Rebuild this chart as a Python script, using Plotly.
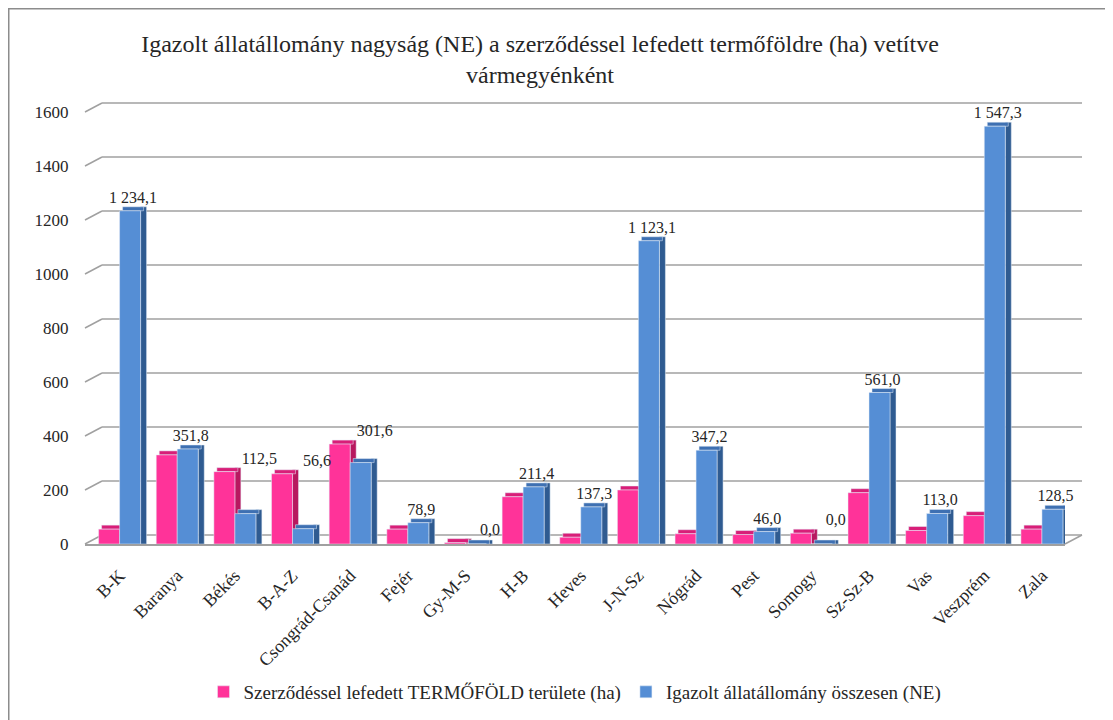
import plotly.graph_objects as go

# ---- data ----
categories = ["B-K", "Baranya", "Békés", "B-A-Z", "Csongrád-Csanád", "Fejér", "Gy-M-S",
              "H-B", "Heves", "J-N-Sz", "Nógrád", "Pest", "Somogy", "Sz-Sz-B", "Vas",
              "Veszprém", "Zala"]
termofold_ha = [55, 330, 268, 260, 370, 55, 5, 175, 25, 200, 38, 35, 40, 190, 50, 105, 55]
allatallomany_ne = [1234.1, 351.8, 112.5, 56.6, 301.6, 78.9, 0.0, 211.4, 137.3, 1123.1,
                    347.2, 46.0, 0.0, 561.0, 113.0, 1547.3, 128.5]
y_ticks = [0, 200, 400, 600, 800, 1000, 1200, 1400, 1600]

series1_name = "Szerződéssel lefedett TERMŐFÖLD területe (ha)"
series2_name = "Igazolt állatállomány összesen (NE)"
title_text = ("Igazolt állatállomány nagyság (NE) a szerződéssel lefedett termőföldre (ha) vetítve"
              "<br>vármegyénként")

# ---- styling ----
FONT = "Liberation Serif, Times New Roman, serif"
TXT = "#262626"
PINK, PINK_SIDE, PINK_TOP = "#FF3399", "#B8185F", "#D81E78"
BLUE, BLUE_SIDE, BLUE_TOP = "#558ED5", "#2F5B91", "#3E70B2"
GRID = "#A0A0A0"

OFF = 8                       # page body margin
W, H = 1113 - OFF, 720 - OFF
L_PX, R_PX = 85 - OFF, 1082 - OFF
T_PX, B_PX = 103 - OFF, 544 - OFF
PW, PH = R_PX - L_PX, B_PX - T_PX
DX, DY = 17, 9
XRANGE = [-0.6, 16.4]
unit_px = (PW - DX) / (XRANGE[1] - XRANGE[0])
YMAX = 1600
ypx = (PH - DY) / YMAX

bw = 21 / unit_px
sw = 6 / unit_px
sh = 3 / unit_px
depth = 4 / ypx

xs = list(range(len(categories)))


def fmt(v):
    return f"{v:,.1f}".replace(",", " ").replace(".", ",")


fig = go.Figure()

fig.add_trace(go.Bar(x=xs, y=[v + depth for v in termofold_ha], offset=0, width=sw,
                     marker=dict(color=PINK_SIDE), showlegend=False, hoverinfo="skip"))
fig.add_trace(go.Bar(x=xs, y=[depth] * len(xs), base=termofold_ha, offset=-bw + sh, width=bw,
                     marker=dict(color=PINK_TOP), showlegend=False, hoverinfo="skip"))
fig.add_trace(go.Bar(x=xs, y=termofold_ha, offset=-bw, width=bw, name=series1_name,
                     marker=dict(color=PINK)))

fig.add_trace(go.Bar(x=xs, y=[v + depth for v in allatallomany_ne], offset=bw, width=sw,
                     marker=dict(color=BLUE_SIDE), showlegend=False, hoverinfo="skip"))
fig.add_trace(go.Bar(x=xs, y=[depth] * len(xs), base=allatallomany_ne, offset=sh, width=bw,
                     marker=dict(color=BLUE_TOP), showlegend=False, hoverinfo="skip"))
fig.add_trace(go.Bar(x=xs, y=allatallomany_ne, offset=0, width=bw, name=series2_name,
                     marker=dict(color=BLUE)))

# data labels of the blue series (moved above the pink bar when that is taller)
lab_x, lab_y = [], []
for i, (p, b) in enumerate(zip(termofold_ha, allatallomany_ne)):
    if p > b:
        lab_x.append(i + bw / 2 + 14 / unit_px)
        lab_y.append(p + depth)
    else:
        lab_x.append(i + bw / 2 + sh)
        lab_y.append(b + depth)
fig.add_trace(go.Scatter(x=lab_x, y=lab_y, mode="text", text=[fmt(v) for v in allatallomany_ne],
                         textposition="top center", cliponaxis=False, showlegend=False,
                         textfont=dict(family=FONT, size=16, color=TXT), hoverinfo="skip"))

x1_dom = [0, (PW - DX) / PW]
x2_dom = [DX / PW, 1]
y1_dom = [0, (PH - DY) / PH]
y2_dom = [DY / PH, 1]

shapes = []
for v in y_ticks:
    yb = y2_dom[0] + v / YMAX * (y2_dom[1] - y2_dom[0])
    shapes.append(dict(type="line", xref="paper", yref="paper", layer="below",
                       x0=0, y0=y1_dom[0] + v / YMAX * (y1_dom[1] - y1_dom[0]),
                       x1=x2_dom[0], y1=yb, line=dict(color=GRID, width=1.5)))
    shapes.append(dict(type="line", xref="paper", yref="paper", layer="below",
                       x0=x2_dom[0], x1=1, y0=yb, y1=yb, line=dict(color=GRID, width=1.5)))
shapes.append(dict(type="line", xref="paper", yref="paper", layer="below",
                   x0=x1_dom[1], y0=0, x1=1, y1=y2_dom[0],
                   line=dict(color=GRID, width=1.5)))
shapes.append(dict(type="rect", xref="paper", yref="paper",
                   x0=(0.5 - L_PX) / PW, x1=(W + 20 - L_PX) / PW,
                   y0=(B_PX - H - 20) / PH, y1=(B_PX - 0.5) / PH,
                   line=dict(color="#8C8C8C", width=2), fillcolor="rgba(0,0,0,0)", layer="below"))

fig.update_layout(
    width=W, height=H,
    margin=dict(l=L_PX, r=W - R_PX, t=T_PX, b=H - B_PX, autoexpand=False),
    paper_bgcolor="white", plot_bgcolor="white",
    barmode="overlay",
    font=dict(family=FONT, color=TXT),
    title=dict(text=title_text, x=(540 - OFF) / W, xanchor="center", xref="container",
               y=1 - (52 - OFF) / H, yanchor="middle", yref="container",
               font=dict(family=FONT, size=24, color=TXT)),
    xaxis=dict(domain=x1_dom, range=XRANGE, tickmode="array", tickvals=xs, ticktext=categories,
               tickangle=-45, tickfont=dict(family=FONT, size=18, color=TXT),
               ticklabelstandoff=12,
               showgrid=False, zeroline=False, showline=True, linecolor=GRID, linewidth=2,
               ticks=""),
    yaxis=dict(domain=y1_dom, range=[0, YMAX], tickmode="array", tickvals=y_ticks,
               showgrid=False, zeroline=False, showline=False, ticks="outside", ticklen=12,
               tickcolor="white", tickfont=dict(family=FONT, size=17, color=TXT)),
    legend=dict(orientation="h", x=(575 - OFF) / W, xanchor="center", xref="container",
                y=1 - (692 - OFF) / H, yanchor="middle", yref="container",
                font=dict(family=FONT, size=19, color=TXT)),
    shapes=shapes,
    showlegend=True,
)

fig.write_html("out.html")
